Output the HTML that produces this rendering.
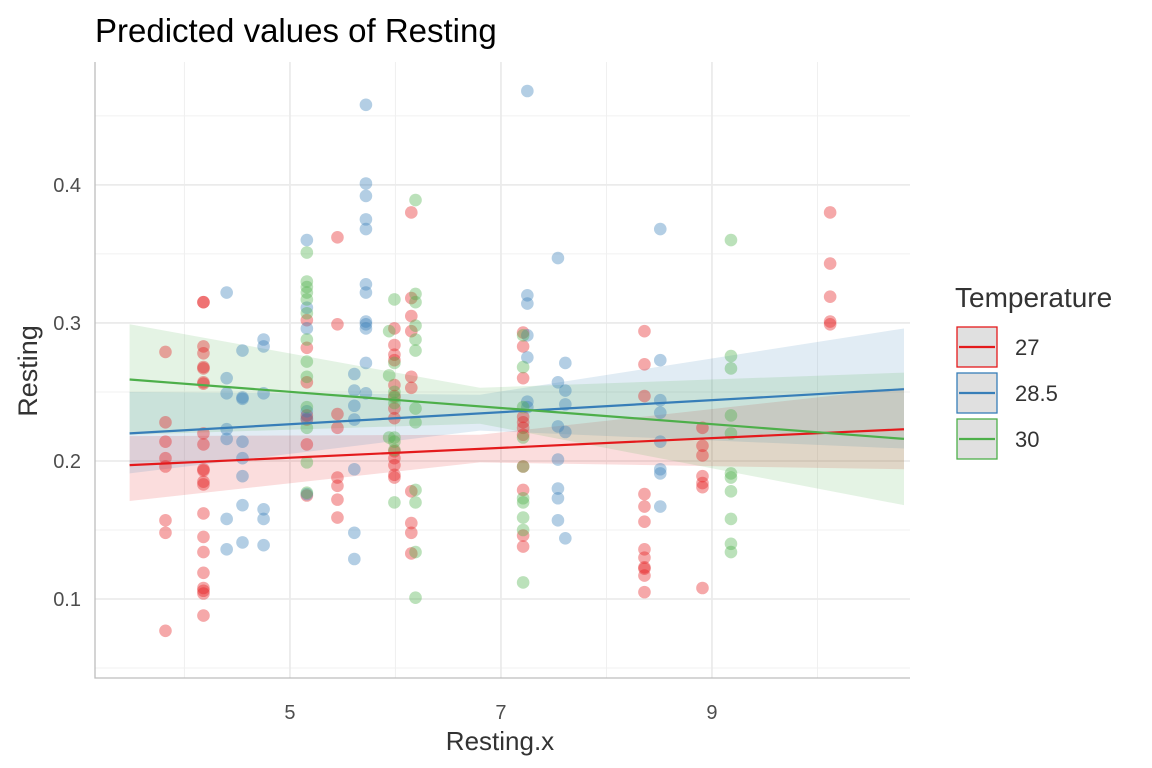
<!DOCTYPE html>
<html><head><meta charset="utf-8"><style>
body{margin:0;background:#fff;font-family:"Liberation Sans",Arial,sans-serif}
svg{display:block}
</style></head><body>
<svg id="chart" width="1152" height="768">
<text x="95" y="42" font-size="33" fill="#000">Predicted values of Resting</text>
<g id="grid"></g><g id="bands"></g><g id="pts"></g><g id="lines"></g><g id="axes"></g>
<text x="500" y="750" font-size="26" fill="#333" text-anchor="middle">Resting.x</text>
<text transform="translate(37,371) rotate(-90)" font-size="27" fill="#333" text-anchor="middle">Resting</text>
<g>
<text x="955" y="307" font-size="28" fill="#333">Temperature</text>
<g id="legend"></g>
</g>
</svg>
<script>
const colX=[3.82,4.18,4.40,4.55,4.75,5.16,5.45,5.61,5.72,5.94,5.99,6.15,6.19,7.21,7.25,7.54,7.61,8.36,8.51,8.91,9.18,10.12];
const redY=[[.279,.228,.214,.202,.196,.157,.148,.077],[.315,.315,.283,.278,.268,.267,.257,.256,.220,.212,.194,.193,.185,.183,.162,.145,.134,.119,.108,.106,.104,.088],[],[],[],[.302,.282,.257,.233,.230,.212,.175],[.362,.299,.234,.224,.188,.182,.172,.159],[],[],[],[.296,.284,.277,.273,.255,.247,.238,.231,.207,.202,.197,.190,.188],[.380,.318,.305,.294,.261,.253,.178,.155,.148,.133],[],[.293,.283,.260,.232,.228,.224,.219,.196,.179,.146,.138],[],[],[],[.294,.270,.247,.176,.167,.156,.136,.130,.123,.122,.117,.105],[],[.224,.211,.204,.189,.184,.181,.108],[],[.380,.343,.319,.301,.299]];
const blueY=[[],[],[.322,.260,.249,.223,.216,.158,.136],[.280,.246,.245,.214,.202,.189,.168,.141],[.288,.283,.249,.165,.158,.139],[.360,.311,.296,.236,.231,.176],[],[.263,.251,.240,.230,.194,.148,.129],[.458,.401,.392,.375,.368,.328,.322,.301,.299,.296,.271,.249],[],[],[],[],[],[.468,.320,.314,.291,.275,.243,.239],[.347,.257,.225,.201,.180,.173,.157],[.271,.251,.241,.221,.144],[],[.368,.273,.244,.235,.214,.194,.191,.167],[],[],[]];
const greenY=[[],[],[],[],[],[.351,.330,.326,.322,.317,.307,.288,.272,.261,.239,.224,.199,.177],[],[],[],[.294,.262,.217],[.317,.271,.250,.246,.242,.217,.214,.208,.170],[],[.389,.321,.315,.298,.288,.280,.238,.228,.179,.170,.134,.101],[.291,.268,.239,.217,.196,.173,.170,.159,.150,.112],[],[],[],[],[],[],[.360,.276,.267,.233,.220,.191,.188,.178,.158,.140,.134],[]];
const fitX=[3.48,6.8,10.82];
const redFit=[.197,.209,.223], redLo=[.171,.199,.194], redHi=[.218,.219,.253];
const blueFit=[.220,.235,.252], blueLo=[.191,.222,.209], blueHi=[.250,.248,.296];
const greenFit=[.259,.240,.216], greenLo=[.219,.227,.168], greenHi=[.299,.253,.264];
const legendLabels=["27","28.5","30"];
const xTicks=[5,7,9], yTicks=[0.1,0.2,0.3,0.4];
const xMinor=[4,6,8,10], yMinor=[0.05,0.15,0.25,0.35,0.45];

const L=95,R=910,T=62,B=678, x0=3.152,x1=10.877,y0=0.0428,y1=0.489;
const sx=v=>L+(v-x0)/(x1-x0)*(R-L), sy=v=>B-(v-y0)/(y1-y0)*(B-T);
const NS="http://www.w3.org/2000/svg";
function mk(t,a,p){const e=document.createElementNS(NS,t);for(const k in a)e.setAttribute(k,a[k]);p.appendChild(e);return e;}
const G=id=>document.getElementById(id);
const cols=["#E41A1C","#377EB8","#4DAF4A"];
yMinor.forEach(v=>{const e=mk('line',{x1:L,x2:R,y1:sy(v),y2:sy(v),stroke:'#f0f0f0','stroke-width':1},G('grid'));

});
xMinor.forEach(v=>{const e=mk('line',{x1:sx(v),x2:sx(v),y1:T,y2:B,stroke:'#f0f0f0','stroke-width':1},G('grid'));

});
yTicks.forEach(v=>{const e=mk('line',{x1:L,x2:R,y1:sy(v),y2:sy(v),stroke:'#ebebeb','stroke-width':1.8},G('grid'));


const t=mk('text',{x:L-14,y:sy(v)+7,'font-size':20,fill:'#4d4d4d','text-anchor':'end'},G('axes'));t.textContent=String(v);

});
xTicks.forEach(v=>{const e=mk('line',{x1:sx(v),x2:sx(v),y1:T,y2:B,stroke:'#ebebeb','stroke-width':1.8},G('grid'));


const t=mk('text',{x:sx(v),y:B+41,'font-size':20,fill:'#4d4d4d','text-anchor':'middle'},G('axes'));t.textContent=String(v);

});
const ax=mk('path',{d:`M${L},${T}V${B}H${R}`,fill:'none',stroke:'#bdbdbd','stroke-width':1.3},G('axes'));


[[redLo,redHi],[blueLo,blueHi],[greenLo,greenHi]].forEach((b,i)=>{
 let d='M'+fitX.map((x,j)=>sx(x)+','+sy(b[1][j])).join('L')+'L'+fitX.slice().reverse().map((x,j)=>sx(x)+','+sy(b[0][fitX.length-1-j])).join('L')+'Z';
 const e=mk('path',{d:d,fill:cols[i],'fill-opacity':0.15},G('bands'));
 
 });
[redY,blueY,greenY].forEach((s,i)=>s.forEach((ys,c)=>ys.forEach(v=>{
 const e=mk('circle',{cx:sx(colX[c]),cy:sy(v),r:6.3,fill:cols[i],'fill-opacity':0.38},G('pts'));
 
 })));
[redFit,blueFit,greenFit].forEach((f,i)=>{
 const e=mk('line',{x1:sx(fitX[0]),y1:sy(f[0]),x2:sx(fitX[2]),y2:sy(f[2]),stroke:cols[i],'stroke-width':2.2},G('lines'));
 
 });
legendLabels.forEach((lab,i)=>{const y=327+i*46;
 const g=mk('g',{},G('legend'));
 
 
 mk('rect',{x:957,y:y,width:40,height:40,fill:'#e0e0e0',stroke:cols[i],'stroke-width':1.3},g);
 mk('line',{x1:959,x2:995,y1:y+20,y2:y+20,stroke:cols[i],'stroke-width':2.2},g);
 const t=mk('text',{x:1015,y:y+28,'font-size':22,fill:'#333'},g);t.textContent=lab;});
</script>
</body></html>
